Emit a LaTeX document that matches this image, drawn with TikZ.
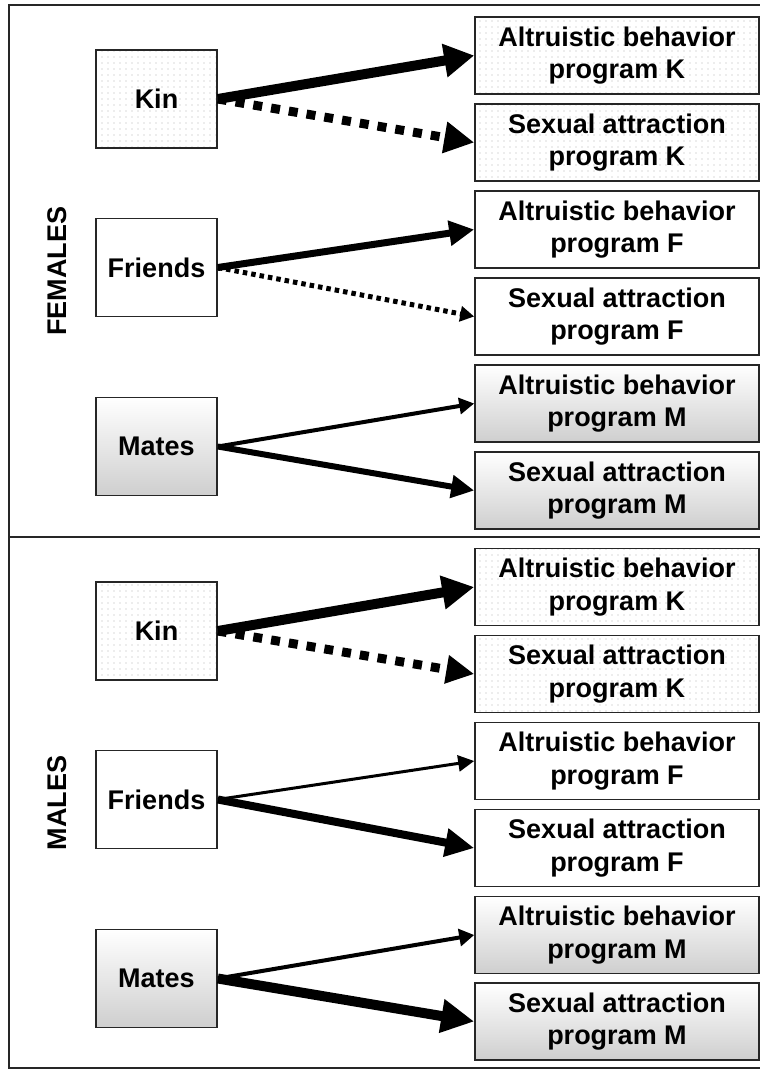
\documentclass[tikz,border=0pt]{standalone}
\usepackage{fontspec}
\setmainfont{Liberation Sans}
\usetikzlibrary{arrows.meta,patterns.meta}
\begin{document}
\begin{tikzpicture}[x=1pt,y=-1pt,
  txt/.style={font=\fontsize{27}{32.5}\selectfont\bfseries},
  box/.style={txt,draw=black!85,line width=1.6pt,inner sep=0pt,align=center},
  srcbox/.style={box,minimum width=121pt,minimum height=98pt},
  prog/.style={box,minimum width=284pt,minimum height=77pt},
  dotted fill/.style={pattern={Dots[distance=6pt,radius=0.6pt]},pattern color=gray!60},
  grad fill/.style={top color=white,bottom color=gray!38},
  plain fill/.style={fill=white},
  arr/.style={draw=black,line width=#1},
  dashes/.style={dash pattern=on 9pt off 9pt},
  dots/.style={dash pattern=on 4.5pt off 4pt},
]
\useasboundingbox (0,0) rectangle (760,1071);
% frame (right side lies outside the picture)
\coordinate (tr) at (760,5);
\coordinate (tl) at (9,5);
\coordinate (bl) at (9,1068);
\coordinate (br) at (760,1068);
\draw[line width=2pt,black!85] (tr) -- (tl) -- (bl) -- (br);
\coordinate (divL) at (9,537);
\coordinate (divR) at (760,537);
\draw[line width=1.6pt,black!85] (divL) -- (divR);
\node[txt,rotate=90] (fem) at (57,271) {FEMALES};
\node[txt,rotate=90] (mal) at (57,803) {MALES};

% ---------------- FEMALES
\node[srcbox,dotted fill] (fK) at (156.5,99) {Kin};
\node[srcbox,plain fill] (fF) at (156.5,267.5) {Friends};
\node[srcbox,grad fill] (fM) at (156.5,446.5) {Mates};

\node[prog,dotted fill] (fAK) at (617,55.5) {Altruistic behavior\\program K};
\node[prog,dotted fill] (fSK) at (617,142.5) {Sexual attraction\\program K};
\node[prog,plain fill] (fAF) at (617,229.5) {Altruistic behavior\\program F};
\node[prog,plain fill] (fSF) at (617,316.5) {Sexual attraction\\program F};
\node[prog,grad fill] (fAM) at (617,403.5) {Altruistic behavior\\program M};
\node[prog,grad fill] (fSM) at (617,490.5) {Sexual attraction\\program M};

\draw[arr=10pt,-{Triangle[length=30pt,width=32pt]}] (fK.east) -- (fAK.west);
\draw[arr=9pt,dashes,-{Triangle[length=30pt,width=30pt]}] (fK.east) -- (fSK.west);
\draw[arr=7pt,-{Triangle[length=25pt,width=24pt]}] (fF.east) -- (fAF.west);
\draw[arr=5pt,dots,-{Triangle[length=14pt,width=15pt]}] (fF.east) -- (fSF.west);
\draw[arr=4pt,-{Triangle[length=15pt,width=16pt]}] (fM.east) -- (fAM.west);
\draw[arr=6pt,-{Triangle[length=23pt,width=22pt]}] (fM.east) -- (fSM.west);

% ---------------- MALES
\node[srcbox,dotted fill] (mK) at (156.5,631) {Kin};
\node[srcbox,plain fill] (mF) at (156.5,799.5) {Friends};
\node[srcbox,grad fill] (mM) at (156.5,978.5) {Mates};

\node[prog,dotted fill] (mAK) at (617,587) {Altruistic behavior\\program K};
\node[prog,dotted fill] (mSK) at (617,674) {Sexual attraction\\program K};
\node[prog,plain fill] (mAF) at (617,761) {Altruistic behavior\\program F};
\node[prog,plain fill] (mSF) at (617,848) {Sexual attraction\\program F};
\node[prog,grad fill] (mAM) at (617,935) {Altruistic behavior\\program M};
\node[prog,grad fill] (mSM) at (617,1021.5) {Sexual attraction\\program M};

\draw[arr=10pt,-{Triangle[length=32pt,width=32pt]}] (mK.east) -- (mAK.west);
\draw[arr=9pt,dashes,-{Triangle[length=28pt,width=27pt]}] (mK.east) -- (mSK.west);
\draw[arr=3pt,-{Triangle[length=16pt,width=16pt]}] (mF.east) -- (mAF.west);
\draw[arr=8pt,-{Triangle[length=29pt,width=27pt]}] (mF.east) -- (mSF.west);
\draw[arr=4pt,-{Triangle[length=15pt,width=17pt]}] (mM.east) -- (mAM.west);
\draw[arr=10pt,-{Triangle[length=33pt,width=32pt]}] (mM.east) -- (mSM.west);
\end{tikzpicture}
\end{document}
